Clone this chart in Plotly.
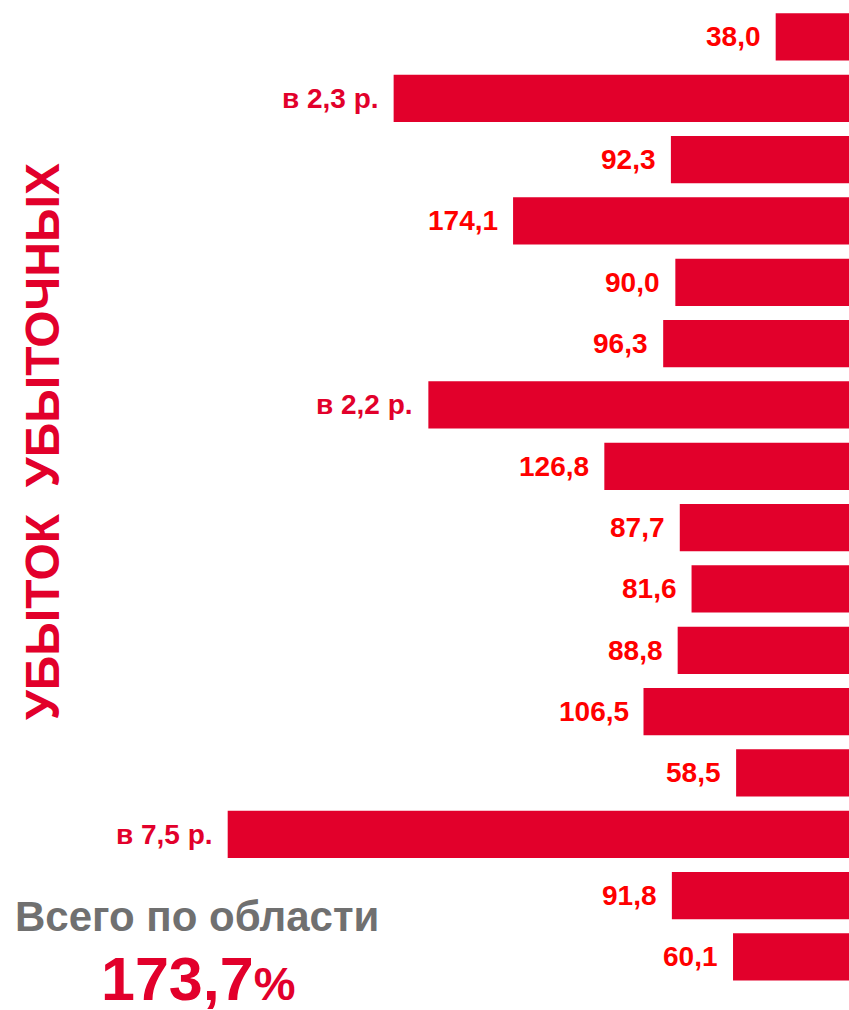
import plotly.graph_objects as go

# Data
rows = list(range(1, 17))
bar_values = [38.0, 236, 92.3, 174.1, 90.0, 96.3, 218, 126.8, 87.7, 81.6, 88.8, 106.5, 58.5, 322, 91.8, 60.1]
labels = ["38,0", "в 2,3 р.", "92,3", "174,1", "90,0", "96,3", "в 2,2 р.", "126,8",
          "87,7", "81,6", "88,8", "106,5", "58,5", "в 7,5 р.", "91,8", "60,1"]
total_label = "Всего по области"
total_value = "173,7"

BAR = "#e2002b"
NUM = "#ff0000"
GREY = "#707070"
FONT = "Liberation Sans, Arial, sans-serif"

W, H = 849, 1010
pos = list(range(len(rows)))

fig = go.Figure(go.Bar(
    x=bar_values, y=pos, orientation="h",
    marker=dict(color=BAR, line=dict(width=0)),
    width=0.77, hoverinfo="skip",
))

annotations = []
for v, p, lab in zip(bar_values, pos, labels):
    col = BAR if lab.startswith("в") else NUM
    annotations.append(dict(
        x=v, y=p, xref="x", yref="y", text="<b>%s</b>" % lab, showarrow=False,
        xanchor="right", yanchor="middle", xshift=-13,
        font=dict(family=FONT, size=28, color=col),
    ))

annotations.append(dict(
    x=43 / W, y=1 - 442 / H, xref="paper", yref="paper",
    text="<b>УБЫТОК\u00a0\u00a0УБЫТОЧНЫХ</b>", textangle=-90, showarrow=False,
    xanchor="center", yanchor="middle",
    font=dict(family=FONT, size=48, color=BAR),
))
annotations.append(dict(
    x=197 / W, y=1 - 916 / H, xref="paper", yref="paper",
    text="<b>%s</b>" % total_label, showarrow=False,
    xanchor="center", yanchor="middle",
    font=dict(family=FONT, size=42, color=GREY),
))
annotations.append(dict(
    x=198 / W, y=1 - 979 / H, xref="paper", yref="paper",
    text="<b>%s<span style='font-size:47px'>%%</span></b>" % total_value, showarrow=False,
    xanchor="center", yanchor="middle", height=60,
    font=dict(family=FONT, size=61, color=BAR),
))

fig.update_layout(
    width=W, height=H,
    margin=dict(l=0, r=0, t=0, b=0),
    paper_bgcolor="white", plot_bgcolor="white",
    showlegend=False,
    xaxis=dict(range=[440, 0], visible=False, showgrid=False, zeroline=False),
    yaxis=dict(range=[15.865, -0.603], visible=False, showgrid=False, zeroline=False),
    annotations=annotations,
)

fig.write_html(
    "out.html",
    config={"displayModeBar": False},
    post_script="document.body.style.margin='0';document.body.style.overflow='hidden';",
)
